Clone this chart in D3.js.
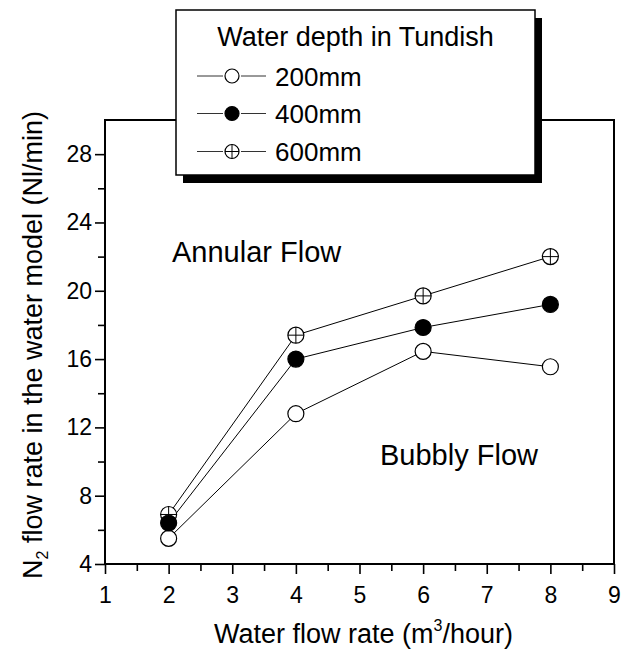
<!DOCTYPE html>
<html><head><meta charset="utf-8">
<script src="https://cdn.jsdelivr.net/npm/d3@7"></script>
<style>
html,body{margin:0;padding:0;background:#fff;}
svg{display:block;font-family:"Liberation Sans",Arial,Helvetica,sans-serif;}
</style></head>
<body>
<svg id="chart" width="627" height="654"></svg>
<script>
const waterFlow = [2, 4, 6, 8];
const depth200 = [5.5, 12.8, 16.45, 15.55];
const depth400 = [6.4, 16.0, 17.85, 19.2];
const depth600 = [6.9, 17.4, 19.7, 22.0];
const seriesNames = ["200mm", "400mm", "600mm"];
const xTicks = [1, 2, 3, 4, 5, 6, 7, 8, 9];
const yTicks = [4, 8, 12, 16, 20, 24, 28];
const xMinor = [1.5, 2.5, 3.5, 4.5, 5.5, 6.5, 7.5, 8.5];
const yMinor = [6, 10, 14, 18, 22, 26];

const svg = d3.select("#chart");
const L = 105, R = 614, T = 120, B = 564;
const x = d3.scaleLinear().domain([1, 9]).range([L, R]);
const y = d3.scaleLinear().domain([4, 30]).range([B, T]);

// frame
svg.append("rect").attr("x", L).attr("y", T).attr("width", R - L).attr("height", B - T)
  .attr("fill", "none").attr("stroke", "#000").attr("stroke-width", 2);

// axes
const xAxis = svg.append("g").attr("transform", `translate(0,${B})`)
  .call(d3.axisBottom(x).tickValues(xTicks).tickFormat(d3.format("d")).tickSize(10).tickPadding(13));
const xAxisMinor = svg.append("g").attr("transform", `translate(0,${B})`)
  .call(d3.axisBottom(x).tickValues(xMinor).tickFormat("").tickSize(7));
const yAxis = svg.append("g").attr("transform", `translate(${L},0)`)
  .call(d3.axisLeft(y).tickValues(yTicks).tickFormat(d3.format("d")).tickSize(10).tickPadding(3));
const yAxisMinor = svg.append("g").attr("transform", `translate(${L},0)`)
  .call(d3.axisLeft(y).tickValues(yMinor).tickFormat("").tickSize(7));
[xAxis, xAxisMinor, yAxis, yAxisMinor].forEach(g => {
  g.select(".domain").remove();
  g.selectAll(".tick line").attr("stroke", "#000").attr("stroke-width", 1.6);
  g.selectAll(".tick text").attr("fill", "#000").attr("font-size", 23)
    .attr("font-family", '"Liberation Sans",Arial,sans-serif');
});

// series
const series = [
  {name: seriesNames[0], vals: depth200, type: "open"},
  {name: seriesNames[1], vals: depth400, type: "filled"},
  {name: seriesNames[2], vals: depth600, type: "cross"}
];
const line = d3.line().x(d => x(d[0])).y(d => y(d[1]));
series.forEach(s => {
  const pts = waterFlow.map((w, i) => [w, s.vals[i]]);
  svg.append("path").attr("d", line(pts)).attr("fill", "none")
    .attr("stroke", "#000").attr("stroke-width", 1);
});
function marker(g, cx, cy, r, type) {
  g.append("circle").attr("cx", cx).attr("cy", cy).attr("r", r)
    .attr("fill", type === "filled" ? "#000" : "#fff").attr("stroke", "#000").attr("stroke-width", 1.2);
  if (type === "cross") {
    g.append("line").attr("x1", cx - r).attr("x2", cx + r).attr("y1", cy).attr("y2", cy)
      .attr("stroke", "#000").attr("stroke-width", 1);
    g.append("line").attr("x1", cx).attr("x2", cx).attr("y1", cy - r).attr("y2", cy + r)
      .attr("stroke", "#000").attr("stroke-width", 1);
  }
}
[series[2], series[0], series[1]].forEach(s => {
  const g = svg.append("g");
  waterFlow.forEach((w, i) => marker(g, x(w), y(s.vals[i]), 8, s.type));
});

// annotations
svg.append("text").attr("x", 172).attr("y", 262).attr("font-size", 29).text("Annular Flow");
svg.append("text").attr("x", 380).attr("y", 465).attr("font-size", 29).text("Bubbly Flow");

// axis titles
const xt = svg.append("text").attr("x", (L + R) / 2 + 4).attr("y", 643).attr("text-anchor", "middle")
  .attr("font-size", 27);
xt.append("tspan").text("Water flow rate (m");
xt.append("tspan").attr("font-size", 16).attr("dy", -12).text("3");
xt.append("tspan").attr("dy", 12).text("/hour)");

const yt = svg.append("text").attr("transform", `translate(42,345) rotate(-90)`)
  .attr("text-anchor", "middle").attr("font-size", 27);
yt.append("tspan").text("N");
yt.append("tspan").attr("font-size", 16).attr("dy", 6).text("2");
yt.append("tspan").attr("dy", -6).text(" flow rate in the water model (Nl/min)");

// legend
const lg = svg.append("g");
const bx = 176, by = 10, bw = 359, bh = 165;
lg.append("rect").attr("x", bx + 7).attr("y", by + 8).attr("width", bw).attr("height", bh).attr("fill", "#000");
lg.append("rect").attr("x", bx).attr("y", by).attr("width", bw).attr("height", bh)
  .attr("fill", "#fff").attr("stroke", "#000").attr("stroke-width", 1.5);
lg.append("text").attr("x", bx + bw / 2).attr("y", 45.5).attr("text-anchor", "middle")
  .attr("font-size", 27).text("Water depth in Tundish");
const rowY = [76, 113.5, 151.5];
series.forEach((s, i) => {
  const cy = rowY[i];
  lg.append("line").attr("x1", 197).attr("x2", 223).attr("y1", cy).attr("y2", cy)
    .attr("stroke", "#333").attr("stroke-width", 1);
  lg.append("line").attr("x1", 241).attr("x2", 266).attr("y1", cy).attr("y2", cy)
    .attr("stroke", "#333").attr("stroke-width", 1);
  marker(lg, 232, cy, 7, s.type);
  lg.append("text").attr("x", 275).attr("y", cy + 9.5).attr("font-size", 26).text(s.name);
});
</script>
</body></html>
